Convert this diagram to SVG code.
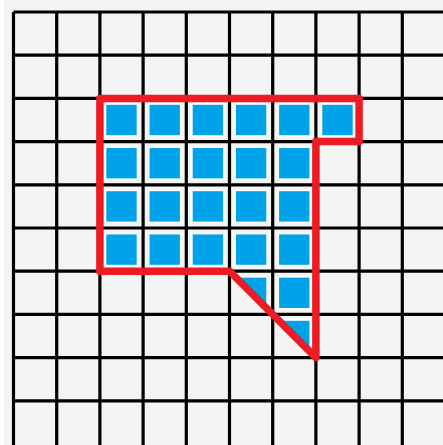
<svg xmlns="http://www.w3.org/2000/svg" width="443" height="445" viewBox="0 0 443 445">
  <defs>
    <style>
      .grid { fill: none; stroke: #000; stroke-width: 3.2; }
      .b { fill: #00a2e8; stroke: #ffffff; stroke-width: 1.6; }
      .outline { fill: none; stroke: #ed1c24; stroke-width: 7.5; stroke-linejoin: round; stroke-linecap: round; }
    </style>
    <clipPath id="region">
      <polygon points="99.9,98.4 359.1,98.4 359.1,141.6 315.9,141.6 315.9,357.6 229.5,271.2 99.9,271.2"/>
    </clipPath>
  </defs>
  <rect x="0" y="0" width="443" height="445" fill="#f4f4f4"/>
  <rect x="0" y="0" width="4" height="445" fill="#ffffff"/>
  <g id="cells" clip-path="url(#region)">
    <rect class="b" x="105.5" y="104" width="32" height="32"/>
    <rect class="b" x="148.7" y="104" width="32" height="32"/>
    <rect class="b" x="191.9" y="104" width="32" height="32"/>
    <rect class="b" x="235.1" y="104" width="32" height="32"/>
    <rect class="b" x="278.3" y="104" width="32" height="32"/>
    <rect class="b" x="321.5" y="104" width="32" height="32"/>
    <rect class="b" x="105.5" y="147.2" width="32" height="32"/>
    <rect class="b" x="148.7" y="147.2" width="32" height="32"/>
    <rect class="b" x="191.9" y="147.2" width="32" height="32"/>
    <rect class="b" x="235.1" y="147.2" width="32" height="32"/>
    <rect class="b" x="278.3" y="147.2" width="32" height="32"/>
    <rect class="b" x="105.5" y="190.4" width="32" height="32"/>
    <rect class="b" x="148.7" y="190.4" width="32" height="32"/>
    <rect class="b" x="191.9" y="190.4" width="32" height="32"/>
    <rect class="b" x="235.1" y="190.4" width="32" height="32"/>
    <rect class="b" x="278.3" y="190.4" width="32" height="32"/>
    <rect class="b" x="105.5" y="233.6" width="32" height="32"/>
    <rect class="b" x="148.7" y="233.6" width="32" height="32"/>
    <rect class="b" x="191.9" y="233.6" width="32" height="32"/>
    <rect class="b" x="235.1" y="233.6" width="32" height="32"/>
    <rect class="b" x="278.3" y="233.6" width="32" height="32"/>
    <rect class="b" x="235.1" y="276.8" width="32" height="32"/>
    <rect class="b" x="278.3" y="276.8" width="32" height="32"/>
    <rect class="b" x="278.3" y="320" width="32" height="32"/>
  </g>
  <g id="grid">
    <path class="grid" d="M13.5 12V445M56.7 12V445M99.9 12V445M143.1 12V445M186.3 12V445M229.5 12V445M272.7 12V445M315.9 12V445M359.1 12V445M402.3 12V445M13.5 12H443M13.5 55.2H443M13.5 98.4H443M13.5 141.6H443M13.5 184.8H443M13.5 228H443M13.5 271.2H443M13.5 314.4H443M13.5 357.6H443M13.5 400.8H443"/>
  </g>
  <g id="outline">
    <polygon class="outline" points="99.9,98.4 359.1,98.4 359.1,141.6 315.9,141.6 315.9,357.6 229.5,271.2 99.9,271.2"/>
  </g>
</svg>
